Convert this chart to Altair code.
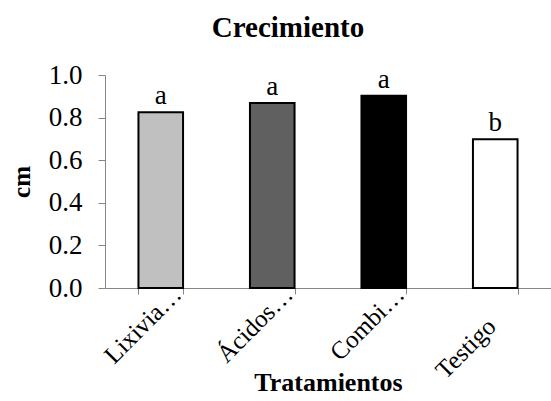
import altair as alt
import pandas as pd

categories = ["Lixivia…", "Ácidos…", "Combi…", "Testigo"]
values = [0.825, 0.868, 0.903, 0.698]
letters = ["a", "a", "a", "b"]
colors = ["#C0C0C0", "#606060", "#000000", "#FFFFFF"]

df = pd.DataFrame({"cat": categories, "val": values, "lab": letters, "col": colors})

FONT = "Liberation Serif"
AXC = "#868686"

x = alt.X("cat:N", sort=categories, title="Tratamientos",
          scale=alt.Scale(paddingInner=0.6, paddingOuter=0.3),
          axis=alt.Axis(labelAngle=-45, labelAlign="right", labelBaseline="middle",
                        labelFontSize=25, labelFont=FONT, labelColor="black",
                        labelOffset={"condition": {"test": "datum.label == 'Testigo'", "value": -4}, "value": 16},
                        labelPadding={"condition": {"test": "datum.label == 'Testigo'", "value": 28}, "value": -4},
                        labelOverlap=False,
                        titleFont=FONT, titleFontSize=26, titleFontWeight="bold",
                        titleColor="black", domainColor=AXC, tickColor=AXC,
                        tickSize=6, ticks=True, tickBand="extent",
                        titleY=102, titleBaseline="alphabetic"))

y = alt.Y("val:Q", title="cm",
          scale=alt.Scale(domain=[0, 1]),
          axis=alt.Axis(values=[0, 0.2, 0.4, 0.6, 0.8, 1.0], format=".1f", grid=False,
                        labelFontSize=27, labelFont=FONT, labelColor="black",
                        titleFont=FONT, titleFontSize=25, titleFontWeight="bold",
                        titleColor="black", domainColor=AXC, tickColor=AXC,
                        tickSize=7, labelPadding=16,
                        titleX=-84, titleBaseline="middle"))

bars = alt.Chart(df).mark_bar(stroke="black", strokeWidth=2).encode(
    x=x, y=y, fill=alt.Fill("col:N", scale=None)
)

text = alt.Chart(df).mark_text(baseline="alphabetic", dy=-8, font=FONT, fontSize=27,
                               color="black").encode(
    x=alt.X("cat:N", sort=categories), y="val:Q", text="lab:N"
)

chart = (bars + text).properties(
    width=446, height=213,
    title=alt.TitleParams("Crecimiento", font=FONT, fontSize=29, fontWeight="bold",
                          color="black", offset=18, dx=-40),
    autosize=alt.AutoSizeParams(type="none"),
    padding={"left": 105, "top": 75, "right": 0, "bottom": 113},
).configure_view(stroke=None)

chart.save("out.html", embed_options={"renderer": "svg", "actions": False})
